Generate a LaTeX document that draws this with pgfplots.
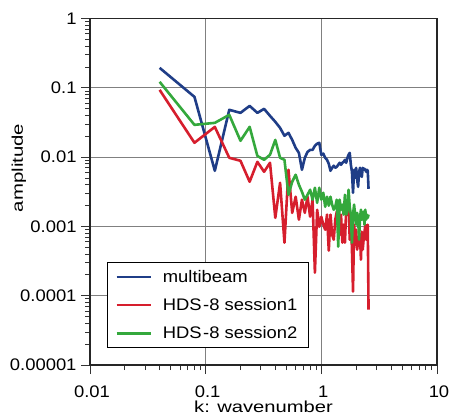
\documentclass[border=0pt]{standalone}
\usepackage{pgfplots}
\usepackage{pgfplotstable}
\pgfplotsset{compat=1.18}
\usepackage{fontspec}
\setmainfont{Liberation Sans}[FakeStretch=1.1]

\definecolor{mbblue}{RGB}{31,61,135}
\definecolor{hdsred}{RGB}{214,30,45}
\definecolor{hdsgreen}{RGB}{52,168,60}

\pgfplotstableread{
k mb s1 s2
0.04 0.194 0.0933 0.122
0.08 0.0740 0.0161 0.0292
0.12 0.00635 0.0273 0.0312
0.16 0.0481 0.00977 0.0407
0.20 0.0435 0.00885 0.0172
0.24 0.0548 0.00441 0.0273
0.28 0.0435 0.00855 0.0104
0.32 0.0497 0.00614 0.00914
0.36 0.0394 0.00828 0.0108
0.40 0.0323 0.00133 0.0177
0.44 0.0264 0.00426 0.00977
0.48 0.0203 0.000582 0.00914
0.52 0.0224 0.00656 0.00286
0.56 0.0177 0.00157 0.00441
0.60 0.0136 0.00268 0.00556
0.64 0.0115 0.00125 0.00399
0.68 0.00656 0.00243 0.00316
0.72 0.00977 0.00157 0.00243
0.76 0.0119 0.00268 0.00286
0.80 0.0127 0.00138 0.00338
0.84 0.0127 0.00243 0.00243
0.88 0.0146 0.000215 0.00361
0.92 0.0156 0.00174 0.00219
0.96 0.0161 0.000990 0.00361
1.00 0.0108 0.00138 0.00243
1.04 0.0112 0.00106 0.00306
1.08 0.00977 0.000896 0.00192
1.12 0.00914 0.00148 0.00268
1.16 0.00800 0.000447 0.00199
1.20 0.00635 0.00148 0.00268
1.24 0.00701 0.000759 0.00206
1.28 0.00750 0.000643 0.00174
1.32 0.00701 0.00125 0.00192
1.36 0.00725 0.00163 0.00243
1.40 0.00775 0.000896 0.000510
1.44 0.00828 0.000759 0.00243
1.48 0.00775 0.00148 0.00174
1.52 0.00828 0.000582 0.00206
1.56 0.00855 0.00106 0.00148
1.60 0.00914 0.000582 0.00286
1.64 0.00828 0.00174 0.00148
1.68 0.00977 0.00148 0.00163
1.72 0.0108 0.00243 0.00338
1.76 0.0115 0.000643 0.00192
1.80 0.00775 0.00148 0.00148
1.84 0.00614 0.000462 0.000582
1.88 0.00306 0.000115 0.00148
1.92 0.00656 0.00106 0.00206
1.96 0.00503 0.000545 0.00148
2.00 0.00701 0.000896 0.00106
2.04 0.00471 0.000462 0.00157
2.08 0.00373 0.000602 0.00133
2.12 0.00614 0.000545 0.000643
2.16 0.00701 0.000759 0.00133
2.20 0.00556 0.000331 0.00174
2.24 0.00520 0.000839 0.00125
2.28 0.00701 0.000462 0.00133
2.32 0.00656 0.000643 0.00163
2.36 0.00678 0.000811 0.00106
2.40 0.00656 0.00106 0.00174
2.44 0.00614 0.000643 0.00125
2.48 0.00656 0.000896 0.00148
2.52 0.00635 0.00106 0.00133
2.56 0.00349 0.0000631 0.00148
}\datatable

\begin{document}
\begin{tikzpicture}
\begin{axis}[
  xmode=log, ymode=log,
  xmin=0.01, xmax=10, ymin=1e-5, ymax=1,
  width=347bp, height=346.5bp, scale only axis,
  xtick={0.01,0.1,1,10}, xticklabels={0.01,0.1,1,10},
  ytick={1e-5,1e-4,1e-3,1e-2,1e-1,1},
  yticklabels={0.00001,0.0001,0.001,0.01,0.1,1},
  tick pos=left, tick align=outside,
  major tick length=9bp, minor tick length=5bp,
  grid=major, major grid style={black!50, line width=0.9bp},
  axis line style={line width=1.3bp, black!85},
  every tick/.style={black!80, line width=0.8bp},
  ticklabel style={font=\fontsize{16.8}{19}\selectfont},
  xticklabel style={yshift=-8bp, xshift=2bp},
  yticklabel style={xshift=-1bp},
  xlabel={\scalebox{1.15}[1]{k: wavenumber}},
  ylabel={\scalebox{1.2}[1]{amplitude}},
  xlabel style={font=\fontsize{16}{18}\selectfont, at={(axis description cs:0.5,-0.12)}, anchor=center},
  ylabel style={font=\fontsize{15.5}{18}\selectfont, at={(axis description cs:-0.205,0.569)}, anchor=center},
  legend style={at={(rel axis cs:0.048,0.297)}, anchor=north west, draw=black, line width=1.2bp,
    font=\fontsize{16.8}{19}\selectfont, inner xsep=8bp, inner ysep=4.5bp, row sep=8.5bp,
    nodes={inner sep=3bp},
    /tikz/every odd column/.append style={column sep=8bp}},
  legend cell align=left,
  legend image code/.code={\draw[#1] (0bp,0bp) -- (34bp,0bp);},
  every axis plot/.append style={line width=2.6bp, line join=round, mark=none},
]
\addplot[mbblue] table[x=k, y=mb] {\datatable};
\addlegendentry{multibeam}
\addplot[hdsred] table[x=k, y=s1] {\datatable};
\addlegendentry{HDS\kern1.5bp-8 session1}
\addplot[hdsgreen] table[x=k, y=s2] {\datatable};
\addlegendentry{HDS\kern1.5bp-8 session2}
\end{axis}
\pgfresetboundingbox
\path (-90bp,-51bp) rectangle (363bp,365bp);
\end{tikzpicture}
\end{document}
